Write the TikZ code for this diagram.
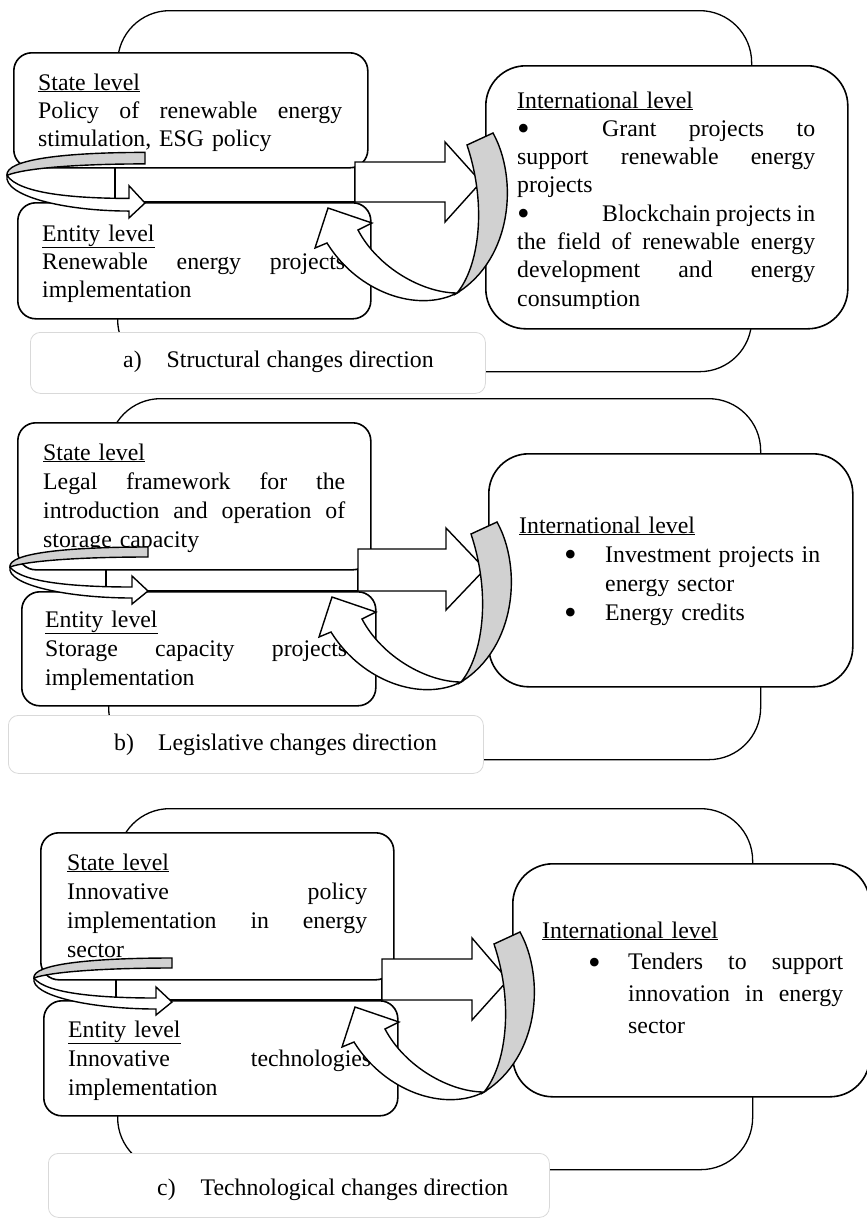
\documentclass[tikz,border=0pt]{standalone}
\usepackage{fontspec}
\setmainfont{Liberation Serif}
\usepackage{tikz}
\usetikzlibrary{positioning}
\definecolor{ribbongray}{gray}{0.82}
\tikzset{
    x=1pt, y=-1pt, % one unit is one pixel of the figure, y runs downwards
    box/.style={draw, line width=1.6pt, rounded corners=18pt, fill=white, inner sep=0pt}, % state and entity level boxes
    intbox/.style={draw, line width=1.6pt, rounded corners=40pt, fill=white, inner sep=0pt}, % international level box
    frame/.style={draw, line width=1.3pt, rounded corners=52pt, inner sep=0pt}, % big frame behind each panel
    capbox/.style={draw=gray!30, line width=0.8pt, rounded corners=10pt, fill=white, inner sep=0pt}, % caption box
    txt/.style={anchor=base west, inner sep=0pt, font=\fontsize{23.8}{28.3}\selectfont},
    blockarrow/.style={draw, line width=1.4pt, fill=white, line join=miter},
    ribbon/.style={draw, line width=1.4pt, fill=ribbongray},
    turnback/.pic={ % loop arrow on the left, tip at the origin
        \draw[blockarrow] (-138,-24) .. controls (-126,-8) and (-70,-4) .. (-16,-4) -- (-16,-15) -- (0,0)
            -- (-16,13) -- (-16,7) .. controls (-80,7) and (-142,-6) .. (-138,-24) -- cycle;
        \draw[ribbon] (0,-44) .. controls (-80,-44) and (-140,-38) .. (-138,-24)
            .. controls (-122,-30) and (-70,-34) .. (0,-34) -- cycle;
    },
    curveback/.pic={ % curved arrow back from the international level, tip at the origin
        \draw[blockarrow] (129,85) .. controls (90,105) and (30,85) .. (-1,35) -- (-13,40) -- (0,0)
            -- (44,15) -- (30,22) .. controls (50,60) and (95,85) .. (129,85) -- cycle;
        \draw[ribbon] (139,-63) -- (165,-75) .. controls (190,-30) and (185,50) .. (129,85)
            .. controls (150,60) and (160,0) .. (139,-63) -- cycle;
    },
}
\newcommand{\jline}[2]{\leavevmode\hbox to #1{#2}} % justified line, words split by \hfill
\newcommand{\bul}{\raisebox{-4.5pt}{\fontsize{36}{36}\selectfont\textbullet}} % larger list bullet

\begin{document}
\begin{tikzpicture}
    \useasboundingbox (0,0) rectangle (867,1219);

    % a) structural changes
    \node[frame, minimum width=634pt, minimum height=361pt, anchor=north west] (f1) at (117,10) {};
    \node[capbox, minimum width=455pt, minimum height=61pt, anchor=north west] (c1) at (30,332) {};
    \node[txt] (c1t) at (123,367) {a)\hspace{25pt}Structural changes direction};
    \node[intbox, minimum width=362pt, minimum height=263pt, anchor=north west] (i1) at (485,65) {};
    \draw[blockarrow] (115,162) rectangle (355,202);
    \node[box, minimum width=354pt, minimum height=115pt, anchor=north west] (s1) at (13,52) {};
    \node[box, minimum width=353pt, minimum height=116pt, anchor=north west] (e1) at (17,202) {};
    \node[txt, text width=304pt] (s1t) at (38,90) {\underline{State level}\\
        \jline{304pt}{Policy\hfill of\hfill renewable\hfill energy}\\
        stimulation, ESG policy};
    \node[txt, text width=303pt] (e1t) at (42,241) {\underline{Entity level}\\
        \jline{303pt}{Renewable\hfill energy\hfill projects}\\
        implementation};
    \draw[blockarrow] (355,162) -- (445,162) -- (445,142) -- (481,182) -- (445,222) -- (445,202) -- (355,202) -- cycle;
    \pic[yscale=1.15] at (145,203) {turnback};
    \pic at (328,208) {curveback};
    \begin{scope}
        \clip (480,60) rectangle (850,308);
        \node[txt, text width=298pt] (i1t) at (517,108) {\underline{International level}\\
            \jline{298pt}{\makebox[85pt][l]{\bul}Grant\hfill projects\hfill to}\\
            \jline{298pt}{support\hfill renewable\hfill energy}\\
            projects\\
            \jline{298pt}{\makebox[85pt][l]{\bul}Blockchain\hfill projects\hfill in}\\
            \jline{298pt}{the\hfill field\hfill of\hfill renewable\hfill energy}\\
            \jline{298pt}{development\hfill and\hfill energy}\\
            consumption};
    \end{scope}

    % b) legislative changes
    \node[frame, minimum width=652pt, minimum height=361pt, anchor=north west] (f2) at (108,398) {};
    \node[capbox, minimum width=475pt, minimum height=58pt, anchor=north west] (c2) at (8,715) {};
    \node[txt] (c2t) at (114,750) {b)\hspace{24pt}Legislative changes direction};
    \node[intbox, minimum width=364pt, minimum height=233pt, anchor=north west] (i2) at (488,453) {};
    \draw[blockarrow] (106,549) rectangle (358,591);
    \node[box, minimum width=353pt, minimum height=147pt, anchor=north west] (s2) at (17,422) {};
    \node[box, minimum width=354pt, minimum height=114pt, anchor=north west] (e2) at (21,591) {};
    \node[txt, text width=302pt, font=\fontsize{23.8}{29}\selectfont] (s2t) at (43,460) {\underline{State level}\\
        \jline{302pt}{Legal\hfill framework\hfill for\hfill the}\\
        \jline{302pt}{introduction\hfill and\hfill operation\hfill of}\\
        storage capacity};
    \node[txt, text width=302pt, font=\fontsize{23.8}{29}\selectfont] (e2t) at (45,627) {\underline{Entity level}\\
        \jline{302pt}{Storage\hfill capacity\hfill projects}\\
        implementation};
    \draw[blockarrow] (358,549) -- (446,549) -- (446,528) -- (485,569) -- (446,610) -- (446,591) -- (358,591) -- cycle;
    \pic at (148,591) {turnback};
    \pic at (332,597) {curveback};
    \node[txt, text width=301pt, font=\fontsize{23.8}{29}\selectfont] (i2t) at (519,533) {\underline{International level}\\
        \hspace*{45pt}\makebox[41pt][l]{\bul}\jline{215pt}{Investment\hfill projects\hfill in}\\
        \hspace*{86pt}energy sector\\
        \hspace*{45pt}\makebox[41pt][l]{\bul}Energy credits};

    % c) technological changes
    \node[frame, minimum width=635pt, minimum height=361pt, anchor=north west] (f3) at (117,808) {};
    \node[capbox, minimum width=501pt, minimum height=64pt, anchor=north west] (c3) at (48,1153) {};
    \node[txt] (c3t) at (157,1195) {c)\hspace{25pt}Technological changes direction};
    \node[intbox, minimum width=357pt, minimum height=233pt, anchor=north west] (i3) at (512,863) {};
    \draw[blockarrow] (116,959) rectangle (382,1000);
    \node[box, minimum width=353pt, minimum height=147pt, anchor=north west] (s3) at (40,832) {};
    \node[box, minimum width=354pt, minimum height=115pt, anchor=north west] (e3) at (43,1000) {};
    \node[txt, text width=300pt, font=\fontsize{23.8}{29}\selectfont] (s3t) at (67,870) {\underline{State level}\\
        \jline{300pt}{Innovative\hfill policy}\\
        \jline{300pt}{implementation\hfill in\hfill energy}\\
        sector};
    \node[txt, text width=303pt, font=\fontsize{23.8}{29}\selectfont] (e3t) at (68,1037) {\underline{Entity level}\\
        \jline{303pt}{Innovative\hfill technologies}\\
        implementation};
    \draw[blockarrow] (382,959) -- (472,959) -- (472,938) -- (508,980) -- (472,1020) -- (472,1000) -- (382,1000) -- cycle;
    \pic at (172,1002) {turnback};
    \pic at (355,1007) {curveback};
    \node[txt, text width=301pt, font=\fontsize{23.8}{31.7}\selectfont] (i3t) at (542,938) {\underline{International level}\\
        \hspace*{46pt}\makebox[40pt][l]{\bul}\jline{215pt}{Tenders\hfill to\hfill support}\\
        \hspace*{86pt}\jline{215pt}{innovation\hfill in\hfill energy}\\
        \hspace*{86pt}sector};
\end{tikzpicture}
\end{document}
